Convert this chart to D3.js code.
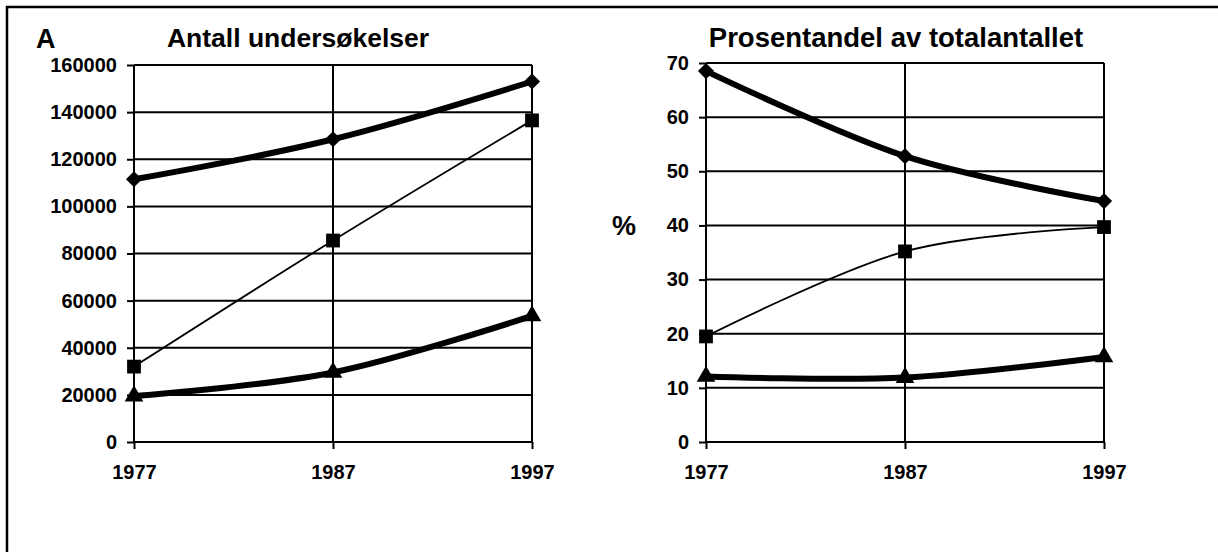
<!DOCTYPE html>
<html>
<head>
<meta charset="utf-8">
<script src="https://cdn.jsdelivr.net/npm/d3@7"></script>
<style>
  body { margin: 0; background: #fff; }
  text { font-family: "Liberation Sans", Arial, sans-serif; font-weight: bold; fill: #000; }
</style>
</head>
<body>
<div id="chart"></div>
<script>
const years = [1977, 1987, 1997];

// Antall undersøkelser
const countDiamond = [111500, 128500, 153000];
const countSquare = [32000, 85500, 136500];
const countTriangle = [19500, 29500, 53500];
const countTicks = [0, 20000, 40000, 60000, 80000, 100000, 120000, 140000, 160000];

// Prosentandel av totalantallet
const pctDiamond = [68.5, 52.8, 44.5];
const pctSquare = [19.5, 35.2, 39.7];
const pctTriangle = [12.1, 11.9, 15.7];
const pctTicks = [0, 10, 20, 30, 40, 50, 60, 70];

const W = 1218, H = 552;

const svg = d3.select("#chart").append("svg")
    .attr("width", W)
    .attr("height", H);

// frame (only top and left edges are inside the picture)
svg.append("path")
    .attr("d", `M7,${H + 5}V7H${W + 5}`)
    .attr("fill", "none")
    .attr("stroke", "#000")
    .attr("stroke-width", 2.5);

svg.append("text")
    .attr("x", 36)
    .attr("y", 48)
    .style("font-size", "27px")
    .text("A");

svg.append("text")
    .attr("x", 612)
    .attr("y", 235)
    .style("font-size", "27px")
    .text("%");

function drawPanel(opts) {
    const x = d3.scalePoint().domain(years).range(opts.xRange);
    const y = d3.scaleLinear().domain(opts.yDomain).range(opts.yRange);
    const g = svg.append("g");

    // gridlines
    g.selectAll(".hgrid")
        .data(opts.ticks)
        .enter().append("line")
        .attr("x1", opts.xRange[0])
        .attr("x2", opts.xRange[1])
        .attr("y1", d => y(d))
        .attr("y2", d => y(d))
        .attr("stroke", "#000")
        .attr("stroke-width", 2);

    g.selectAll(".vgrid")
        .data(years)
        .enter().append("line")
        .attr("x1", d => x(d))
        .attr("x2", d => x(d))
        .attr("y1", opts.yRange[1])
        .attr("y2", opts.yRange[0])
        .attr("stroke", "#000")
        .attr("stroke-width", 2);

    const yAxis = g.append("g")
        .attr("transform", `translate(${opts.xRange[0]},0)`)
        .call(d3.axisLeft(y).tickValues(opts.ticks).tickSize(7).tickSizeOuter(0).tickPadding(10).tickFormat(d3.format("d")));
    yAxis.select(".domain").remove();
    yAxis.selectAll("line").attr("stroke", "#000").attr("stroke-width", 2);
    yAxis.selectAll("text").style("font-size", "20px").attr("font-family", null);

    const xAxis = g.append("g")
        .attr("transform", `translate(0,${opts.yRange[0]})`)
        .call(d3.axisBottom(x).tickSize(7).tickSizeOuter(0).tickPadding(16));
    xAxis.select(".domain").remove();
    xAxis.selectAll("line").attr("stroke", "#000").attr("stroke-width", 2);
    xAxis.selectAll("text").style("font-size", "20px").attr("font-family", null);

    // title
    g.append("text")
        .attr("x", opts.titleX)
        .attr("y", 47)
        .attr("text-anchor", "middle")
        .style("font-size", opts.titleSize)
        .text(opts.title);

    const line = d3.line()
        .x((d, i) => x(years[i]))
        .y(d => y(d))
        .curve(d3.curveCatmullRom.alpha(0));

    const series = [
        {values: opts.diamond, width: 6, shape: d3.symbolSquare, size: 130, rotate: 45},
        {values: opts.square, width: 1.8, shape: d3.symbolSquare, size: 190, rotate: 0},
        {values: opts.triangle, width: 6, shape: d3.symbolTriangle, size: 150, rotate: 0}
    ];

    series.forEach(s => {
        g.append("path")
            .datum(s.values)
            .attr("d", line)
            .attr("fill", "none")
            .attr("stroke", "#000")
            .attr("stroke-width", s.width);

        g.selectAll(null)
            .data(s.values)
            .enter().append("path")
            .attr("transform", (d, i) => `translate(${x(years[i])},${y(d)}) rotate(${s.rotate})`)
            .attr("d", d3.symbol().type(s.shape).size(s.size))
            .attr("fill", "#000");
    });
}

drawPanel({
    xRange: [134, 532],
    yRange: [442, 65],
    yDomain: [0, 160000],
    ticks: countTicks,
    diamond: countDiamond,
    square: countSquare,
    triangle: countTriangle,
    title: "Antall undersøkelser",
    titleX: 298,
    titleSize: "26.5px"
});

drawPanel({
    xRange: [706, 1104],
    yRange: [442, 63],
    yDomain: [0, 70],
    ticks: pctTicks,
    diamond: pctDiamond,
    square: pctSquare,
    triangle: pctTriangle,
    title: "Prosentandel av totalantallet",
    titleX: 896,
    titleSize: "27.5px"
});
</script>
</body>
</html>
